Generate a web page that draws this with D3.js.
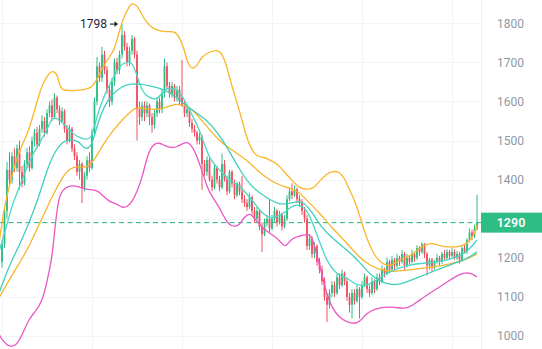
<!DOCTYPE html>
<html>
<head>
<meta charset="utf-8">
<script src="https://cdn.jsdelivr.net/npm/d3@7"></script>
<style>
  html, body { margin: 0; padding: 0; background: #fff; overflow: hidden; }
  svg { display: block; }
</style>
</head>
<body>
<svg id="chart" width="542" height="349"></svg>
<script>
// Daily candles: [open, high, low, close]
const candles = [
  [1190,1245,1175,1235],[1235,1330,1225,1320],[1320,1445,1300,1425],[1425,1470,1385,1400],
  [1400,1470,1390,1460],[1460,1480,1420,1430],[1430,1490,1420,1480],[1480,1500,1375,1420],
  [1420,1435,1380,1390],[1390,1450,1385,1440],[1440,1480,1430,1470],[1470,1485,1420,1430],
  [1430,1510,1425,1500],[1500,1530,1485,1520],[1520,1535,1480,1490],[1490,1540,1485,1530],
  [1530,1565,1520,1550],[1550,1560,1510,1520],[1520,1580,1515,1570],[1570,1600,1560,1590],
  [1590,1605,1550,1560],[1560,1621,1555,1610],[1610,1615,1570,1580],[1580,1590,1540,1550],
  [1550,1585,1545,1575],[1575,1580,1520,1530],[1530,1540,1490,1500],[1500,1540,1495,1530],
  [1530,1535,1470,1480],[1480,1490,1450,1460],[1460,1470,1410,1420],[1420,1450,1400,1440],
  [1440,1445,1340,1380],[1380,1420,1370,1410],[1410,1460,1400,1450],[1450,1470,1420,1430],
  [1430,1530,1425,1520],[1520,1610,1510,1600],[1600,1714,1590,1690],[1690,1700,1650,1660],
  [1660,1740,1650,1720],[1720,1730,1670,1680],[1680,1690,1620,1630],[1630,1640,1586,1600],
  [1600,1660,1590,1650],[1650,1710,1640,1700],[1700,1712,1670,1680],[1680,1730,1670,1720],
  [1720,1798,1710,1770],[1770,1780,1730,1740],[1740,1750,1690,1700],[1700,1740,1690,1730],
  [1730,1770,1720,1760],[1760,1765,1710,1720],[1720,1730,1500,1580],[1580,1600,1540,1560],
  [1560,1600,1550,1590],[1590,1600,1550,1570],[1570,1600,1560,1590],[1590,1595,1540,1560],
  [1560,1570,1520,1540],[1540,1580,1530,1570],[1570,1610,1560,1600],[1600,1610,1570,1580],
  [1580,1630,1570,1620],[1620,1710,1610,1690],[1690,1700,1630,1640],[1640,1650,1610,1620],
  [1620,1650,1610,1640],[1640,1645,1600,1610],[1610,1640,1600,1630],[1630,1640,1590,1600],
  [1610,1706,1586,1590],[1590,1600,1560,1570],[1570,1590,1560,1580],[1580,1585,1535,1545],
  [1545,1555,1520,1530],[1530,1540,1510,1520],[1520,1525,1490,1500],[1500,1520,1490,1510],
  [1510,1515,1374,1440],[1440,1450,1410,1420],[1420,1460,1410,1450],[1450,1455,1395,1400],
  [1400,1410,1370,1380],[1380,1440,1375,1430],[1430,1435,1390,1400],[1400,1410,1370,1380],
  [1380,1467,1375,1440],[1440,1450,1395,1400],[1400,1410,1360,1370],[1370,1425,1365,1420],
  [1420,1425,1380,1390],[1390,1400,1350,1360],[1360,1395,1355,1390],[1390,1395,1360,1370],
  [1370,1410,1340,1350],[1350,1360,1330,1340],[1340,1350,1320,1330],[1330,1365,1325,1355],
  [1355,1360,1310,1320],[1320,1330,1290,1300],[1300,1330,1295,1320],[1320,1325,1270,1280],
  [1280,1290,1215,1260],[1260,1300,1255,1290],[1290,1310,1280,1300],[1300,1348,1265,1275],
  [1275,1310,1270,1300],[1300,1330,1290,1320],[1320,1325,1280,1290],[1290,1320,1285,1310],
  [1310,1315,1270,1280],[1280,1310,1275,1300],[1300,1360,1295,1350],[1350,1380,1345,1370],
  [1370,1391,1350,1360],[1360,1385,1355,1375],[1375,1380,1340,1350],[1350,1360,1330,1340],
  [1340,1350,1310,1320],[1320,1330,1290,1300],[1300,1310,1220,1230],[1230,1260,1220,1250],
  [1250,1255,1200,1210],[1210,1240,1200,1230],[1230,1235,1180,1190],[1190,1200,1160,1170],
  [1170,1180,1130,1140],[1140,1150,1090,1100],[1100,1110,1036,1080],[1080,1120,1070,1110],
  [1110,1140,1100,1130],[1130,1140,1100,1110],[1110,1160,1105,1150],[1150,1160,1120,1130],
  [1130,1170,1125,1160],[1160,1165,1130,1140],[1140,1150,1090,1100],[1100,1110,1060,1080],
  [1080,1120,1045,1110],[1110,1120,1080,1090],[1090,1130,1085,1120],[1120,1125,1045,1100],
  [1100,1140,1095,1130],[1130,1160,1125,1150],[1150,1155,1110,1120],[1120,1130,1100,1110],
  [1110,1150,1105,1140],[1140,1145,1110,1120],[1120,1160,1115,1150],[1150,1160,1130,1140],
  [1140,1180,1135,1170],[1170,1175,1150,1160],[1160,1200,1155,1190],[1190,1195,1160,1170],
  [1170,1205,1165,1195],[1195,1200,1170,1180],[1180,1210,1175,1200],[1200,1205,1180,1190],
  [1190,1220,1185,1210],[1210,1215,1170,1180],[1180,1210,1175,1200],[1200,1205,1180,1190],
  [1190,1220,1185,1210],[1210,1215,1190,1200],[1200,1232,1195,1225],[1225,1230,1205,1215],
  [1215,1240,1210,1235],[1235,1238,1200,1210],[1210,1215,1155,1180],[1180,1200,1170,1195],
  [1195,1200,1165,1175],[1175,1195,1170,1190],[1190,1210,1185,1200],[1200,1205,1180,1190],
  [1190,1215,1185,1210],[1210,1220,1195,1200],[1200,1222,1195,1215],[1215,1220,1195,1205],
  [1205,1225,1200,1215],[1215,1222,1195,1200],[1200,1218,1195,1210],[1210,1215,1185,1195],
  [1195,1230,1190,1225],[1225,1235,1210,1215],[1215,1250,1210,1245],[1245,1275,1240,1265],
  [1265,1272,1245,1255],[1255,1285,1250,1275],[1275,1361,1270,1290]
];

// Indicator lines as [candle index, price]
const upperBand = [
  [-1,1246],[1,1335],[4,1412],[7,1476],[10,1514],[12,1553],[16,1647],[19,1673],[20,1678],[22,1673],
  [23,1642],[24,1629],[27,1627],[31,1629],[34,1632],[36,1637],[38,1655],[40,1686],[43,1714],[45,1732],
  [47,1783],[49,1821],[51,1844],[52,1852],[54,1847],[56,1821],[58,1801],[60,1788],[63,1780],[66,1778],
  [69,1780],[71,1765],[73,1732],[74,1701],[76,1681],[78,1691],[80,1716],[83,1727],[86,1732],[88,1724],
  [90,1688],[92,1637],[95,1578],[98,1502],[100,1476],[102,1458],[105,1458],[107,1450],[110,1442],[113,1419],
  [117,1391],[119,1379],[122,1374],[125,1379],[127,1397],[130,1415],[132,1422],[135,1420],[137,1404],[139,1374],
  [141,1348],[143,1310],[145,1266],[147,1233],[149,1207],[151,1190],[154,1179],[156,1182],[158,1190],[161,1200],
  [164,1207],[166,1220],[169,1233],[172,1238],[174,1233],[177,1228],[180,1228],[182,1228],[185,1233],[187,1243],
  [189,1261],[190,1284]
];
const lowerBand = [
  [-1,1003],[0,990],[3,970],[6,977],[8,1003],[11,1046],[13,1059],[16,1087],[18,1138],[20,1200],
  [21,1266],[22,1322],[23,1361],[25,1379],[28,1386],[31,1381],[34,1374],[38,1374],[40,1361],[43,1343],
  [46,1338],[48,1328],[50,1330],[52,1343],[54,1369],[56,1404],[58,1458],[60,1489],[63,1496],[65,1486],
  [68,1481],[70,1484],[73,1496],[75,1494],[77,1476],[80,1424],[82,1381],[84,1356],[87,1330],[90,1287],
  [93,1279],[95,1284],[97,1305],[99,1315],[101,1302],[104,1276],[108,1259],[110,1251],[113,1228],[114,1233],
  [116,1251],[121,1259],[123,1261],[124,1251],[126,1208],[128,1156],[130,1105],[132,1072],[135,1046],[138,1036],
  [141,1031],[143,1036],[146,1059],[149,1069],[153,1074],[157,1074],[161,1069],[164,1077],[167,1092],[172,1113],
  [178,1138],[183,1159],[187,1164],[190,1151]
];
const maSlow = [
  [-1,1100],[4,1156],[9,1207],[13,1259],[17,1315],[21,1369],[24,1404],[27,1430],[31,1435],[34,1430],
  [37,1450],[41,1496],[44,1522],[48,1553],[52,1578],[54,1586],[57,1581],[63,1578],[68,1591],[71,1594],
  [75,1586],[79,1560],[84,1519],[88,1494],[92,1476],[98,1450],[102,1424],[107,1399],[111,1386],[115,1379],
  [119,1368],[123,1340],[127,1315],[132,1276],[138,1238],[143,1200],[147,1182],[151,1169],[156,1164],[163,1169],
  [170,1175],[176,1180],[183,1190],[187,1200],[190,1210]
];
const maFast = [
  [-1,1220],[2,1284],[4,1335],[7,1381],[11,1450],[15,1494],[18,1527],[20,1560],[22,1558],[26,1535],
  [28,1519],[31,1507],[34,1502],[36,1507],[38,1565],[41,1617],[43,1642],[46,1681],[48,1696],[50,1701],
  [52,1701],[54,1668],[56,1624],[59,1609],[62,1604],[64,1622],[66,1634],[69,1634],[71,1624],[73,1604],
  [75,1578],[77,1553],[79,1527],[81,1489],[83,1456],[85,1438],[87,1425],[89,1412],[91,1399],[93,1391],
  [95,1386],[97,1369],[99,1356],[101,1340],[103,1322],[105,1310],[107,1302],[109,1302],[111,1310],[113,1315],
  [115,1328],[117,1335],[119,1335],[121,1328],[123,1310],[125,1276],[127,1241],[130,1190],[134,1156],[138,1149],
  [140,1138],[143,1128],[147,1131],[151,1149],[155,1164],[159,1174],[164,1184],[170,1187],[175,1190],[180,1197],
  [186,1213],[190,1246]
];
const maMid = [
  [-1,1113],[3,1182],[7,1233],[11,1292],[15,1361],[18,1425],[21,1471],[24,1496],[27,1504],[31,1499],
  [33,1476],[36,1484],[38,1540],[41,1591],[44,1617],[48,1640],[52,1645],[55,1645],[59,1640],[63,1634],
  [67,1624],[71,1604],[76,1578],[82,1553],[86,1522],[90,1484],[95,1425],[100,1379],[106,1353],[111,1335],
  [116,1340],[120,1348],[124,1317],[128,1276],[132,1251],[138,1220],[143,1190],[148,1151],[154,1131],[159,1131],
  [164,1144],[170,1159],[175,1172],[180,1184],[186,1197],[190,1215]
];

const priceTicks = [1000, 1100, 1200, 1300, 1400, 1500, 1600, 1700, 1800];
const timeGridIdx = [0, 36, 72, 108, 144, 180];
const lastPrice = 1290;
const peakIdx = 48;
const peakLabel = "1798";

const W = 542, H = 349, plotRight = 481;
const green = "#2ebd85", red = "#f0505f";

const svg = d3.select("#chart");
const x = d3.scaleLinear().domain([0, candles.length - 1]).range([2, 477]);
const y = d3.scaleLinear().domain([1000, 1800]).range([336, 23.3]);

// grid
const grid = svg.append("g");
grid.selectAll("line.h").data(priceTicks).join("line")
  .attr("x1", 0).attr("x2", plotRight)
  .attr("y1", d => Math.round(y(d)) + 0.5).attr("y2", d => Math.round(y(d)) + 0.5)
  .attr("stroke", "#f3f4f6").attr("stroke-width", 1);
grid.selectAll("line.v").data(timeGridIdx).join("line")
  .attr("x1", d => Math.round(x(d)) + 0.5).attr("x2", d => Math.round(x(d)) + 0.5)
  .attr("y1", 0).attr("y2", H)
  .attr("stroke", "#f3f4f6").attr("stroke-width", 1);
grid.append("line")
  .attr("x1", plotRight + 0.5).attr("x2", plotRight + 0.5).attr("y1", 0).attr("y2", H)
  .attr("stroke", "#eef0f2");

const plot = svg.append("g");
plot.append("clipPath").attr("id", "clip")
  .append("rect").attr("x", 0).attr("y", 0).attr("width", plotRight).attr("height", H);
const inner = plot.append("g").attr("clip-path", "url(#clip)");

// last price dashed line
inner.append("line")
  .attr("x1", 0).attr("x2", plotRight)
  .attr("y1", y(lastPrice)).attr("y2", y(lastPrice))
  .attr("stroke", "#22ad7b").attr("stroke-width", 1).attr("stroke-dasharray", "5,3.5");

// candles
const cg = inner.append("g");
const col = d => d[3] >= d[0] ? green : red;
cg.selectAll("line").data(candles).join("line")
  .attr("x1", (d, i) => x(i)).attr("x2", (d, i) => x(i))
  .attr("y1", d => y(d[1])).attr("y2", d => y(d[2]))
  .attr("stroke", col).attr("stroke-width", 1);
cg.selectAll("rect").data(candles).join("rect")
  .attr("x", (d, i) => x(i) - 0.9).attr("width", 1.8)
  .attr("y", d => y(Math.max(d[0], d[3])))
  .attr("height", d => Math.max(1, Math.abs(y(d[0]) - y(d[3]))))
  .attr("fill", col);

// indicator lines
const line = d3.line().x(d => x(d[0])).y(d => y(d[1])).curve(d3.curveBasis);
const series = [
  { data: maSlow, color: "#f7b52c" },
  { data: maMid, color: "#3fcfbd" },
  { data: maFast, color: "#4ad8c6" },
  { data: upperBand, color: "#fbb62a" },
  { data: lowerBand, color: "#e957c4" }
];
inner.selectAll("path.ind").data(series).join("path")
  .attr("class", "ind")
  .attr("d", s => line(s.data))
  .attr("fill", "none").attr("stroke", s => s.color).attr("stroke-width", 1.3);

// peak annotation
const ann = svg.append("g");
const py = y(+peakLabel);
ann.append("text")
  .attr("x", 80).attr("y", py + 4)
  .attr("font-family", "Roboto, sans-serif").attr("font-size", 12)
  .attr("fill", "#261f45").text(peakLabel);
const ax2 = x(peakIdx) - 4, ax1 = ax2 - 8;
ann.append("line").attr("x1", ax1).attr("x2", ax2 - 1).attr("y1", py).attr("y2", py)
  .attr("stroke", "#1e2329").attr("stroke-width", 1.1);
ann.append("path")
  .attr("d", `M${ax2},${py} L${ax2 - 3.5},${py - 2.8} L${ax2 - 3.5},${py + 2.8} Z`)
  .attr("fill", "#1e2329");

// price axis; the tick nearest the last-price tag sits under it
const visibleTicks = priceTicks.filter(t => Math.abs(y(t) - y(lastPrice)) > 14);
const axis = svg.append("g").attr("transform", `translate(${plotRight},0)`)
  .call(d3.axisRight(y).tickValues(visibleTicks).tickSize(0).tickPadding(16).tickFormat(d3.format("d")));
axis.select(".domain").remove();
axis.selectAll("text")
  .attr("font-family", "Roboto, sans-serif").attr("font-size", 12)
  .attr("fill", "#8f98a5");

// last price tag
const tag = svg.append("g");
tag.append("rect")
  .attr("x", plotRight).attr("y", y(lastPrice) - 10)
  .attr("width", W - plotRight).attr("height", 20)
  .attr("fill", green);
tag.append("text")
  .attr("x", 511).attr("y", y(lastPrice) + 4.5)
  .attr("text-anchor", "middle")
  .attr("font-family", "Roboto, sans-serif").attr("font-size", 12.5).attr("font-weight", 600)
  .attr("fill", "#ffffff").text(lastPrice);
</script>
</body>
</html>
